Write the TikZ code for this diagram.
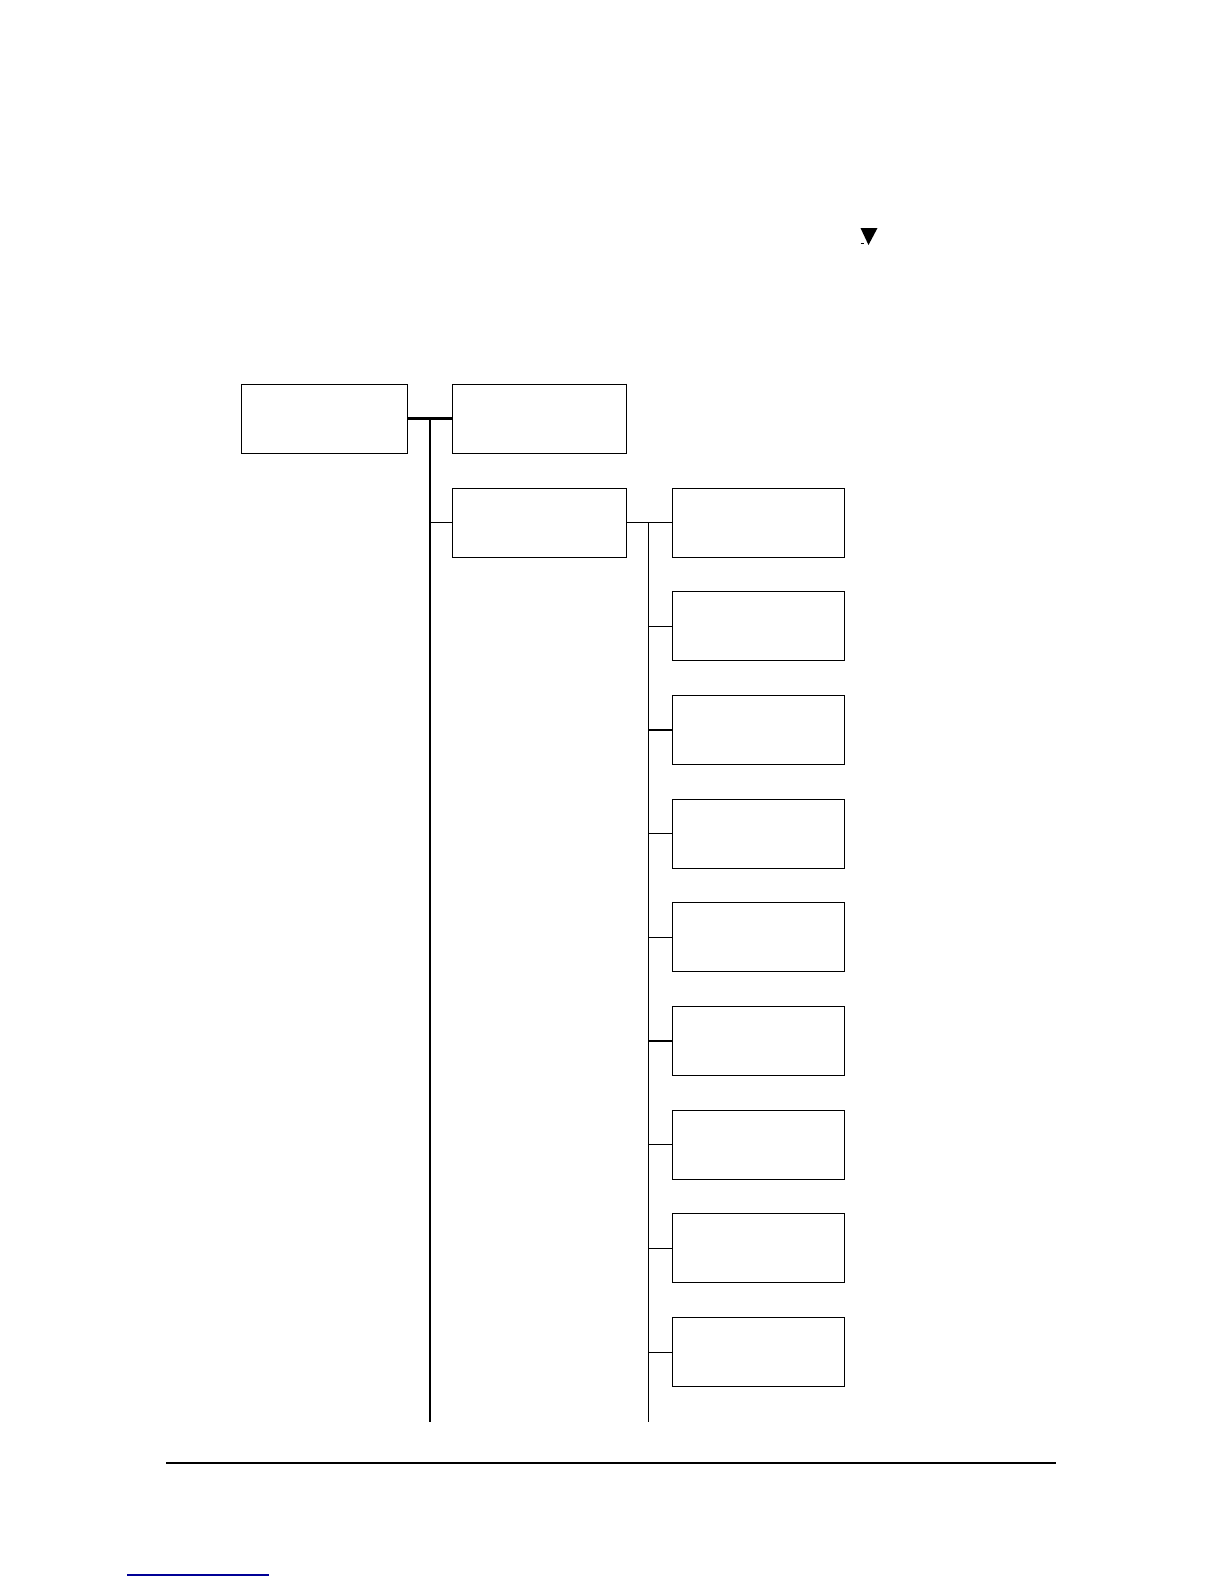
\documentclass[tikz,border=0pt]{standalone}
\usetikzlibrary{calc}
\definecolor{linkblue}{RGB}{0,0,150}
\begin{document}
\begin{tikzpicture}[x=1pt,y=-1pt,
  menubox/.style={draw=black,line width=1pt,rectangle,inner sep=0pt,minimum width=172pt,minimum height=69pt},
  leftbox/.style={menubox,minimum width=166pt},
  thickline/.style={line width=2.3pt,black},
  thinline/.style={line width=1.2pt,black}]
\useasboundingbox (0,0) rectangle (1224,1584);
\fill[white] (0,0) rectangle (1224,1584);
% top marker
\fill[black] (860.5,228) -- (877.5,228) -- (868.5,245) -- cycle;
\draw[line width=0.6pt] (860.5,243) -- (863.5,243);
% boxes
\node[leftbox] (A) at (324,418.5) {};
\node[menubox,minimum width=174pt] (B) at (539,418.5) {};
\node[menubox,minimum width=174pt] (C) at (539,522.5) {};
\foreach \i in {0,...,8}{
  \node[menubox] (D\i) at (758,{522.5+\i*103.7}) {};
}
% trunks
\coordinate (t1top) at (430,418.5);
\coordinate (t1bot) at (430,1422);
\coordinate (t2top) at (648.5,522.5);
\coordinate (t2bot) at (648.5,1422);
\draw[thickline] (A.east) -- (B.west);
\draw[thickline] (t1top) -- (t1bot);
\draw[thinline] (t1top |- C.west) -- (C.west);
\draw[line width=1.8pt] (B.north east) -- (B.south east);
\draw[thinline] (C.east) -- (D0.west);
\draw[thinline] (t2top) -- (t2bot);
\foreach \i in {1,...,8}{
  \draw[thinline] (t2top |- D\i.west) -- (D\i.west);
}
% footer rule and link underline
\coordinate (r1) at (166,1463);
\coordinate (r2) at (1056,1463);
\draw[line width=1.3pt] (r1) -- (r2);
\coordinate (l1) at (127,1575);
\coordinate (l2) at (269,1575);
\draw[line width=1.2pt,linkblue] (l1) -- (l2);
\end{tikzpicture}
\end{document}
